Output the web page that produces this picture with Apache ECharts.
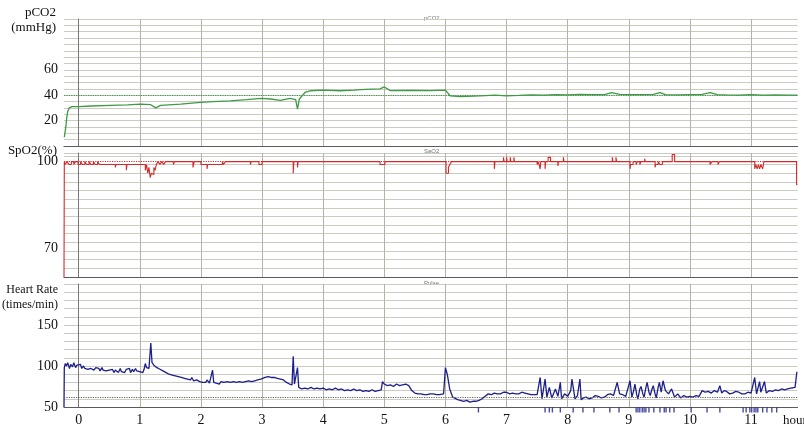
<!DOCTYPE html>
<html>
<head>
<meta charset="utf-8">
<script src="https://cdn.jsdelivr.net/npm/echarts@6/dist/echarts.min.js"></script>
<style>
  html, body { margin: 0; padding: 0; background: #fff; }
  #chart { width: 804px; height: 427px; }
</style>
</head>
<body>
<div id="chart"></div>
<script>
// Time axis (hours) and labelled ticks
const hourTicks = [0, 1, 2, 3, 4, 5, 6, 7, 8, 9, 10, 11];
const pco2Labels = [20, 40, 60];
const spo2Labels = [70, 100];
const hrLabels = [50, 100, 150];

// Reference levels drawn as dotted lines
const pco2Ref = 40;
const spo2Ref = 100;
const hrRef = 62;

// pCO2 (mmHg): [hour, value]
const pco2 = [
  [-0.235, 7], [-0.21, 15], [-0.196, 22], [-0.18, 27], [-0.155, 30], [-0.11, 31],
  [0, 31], [0.2, 31.5], [0.52, 32], [0.8, 32.4], [1.01, 33], [1.18, 32.5], [1.26, 30],
  [1.34, 32], [1.67, 33], [1.99, 34.4], [2.2, 35], [2.48, 35.5], [2.75, 36.5], [2.99, 37.5],
  [3.14, 37], [3.3, 36], [3.46, 37.5], [3.55, 36.5], [3.58, 29], [3.61, 37], [3.71, 42.5],
  [3.79, 43.5], [3.99, 44], [4.28, 43.5], [4.5, 44], [4.69, 44.6], [4.93, 45], [5.0, 46.5],
  [5.1, 43.6], [5.42, 43.8], [5.75, 43.6], [6.0, 44], [6.08, 39.4], [6.24, 38.8],
  [6.57, 39.4], [6.81, 40], [7.0, 39.5], [7.2, 39.8], [7.4, 40.3], [7.6, 40], [7.8, 40.5],
  [8.0, 40.3], [8.2, 40.6], [8.4, 40.4], [8.6, 40.5], [8.72, 42], [8.85, 40.6], [9.0, 40.4],
  [9.2, 40.5], [9.4, 40.6], [9.51, 42], [9.6, 40.5], [9.8, 40.3], [10.0, 40.5], [10.2, 40.6],
  [10.33, 42], [10.45, 40.5], [10.6, 40.2], [10.8, 40], [11.0, 40.4], [11.2, 40],
  [11.4, 40.2], [11.6, 40], [11.76, 40]
];

// SpO2 (%): [hour, value], each value held until the next point
const spo2 = [
  [-0.24, 60], [-0.235, 100], [-0.22, 99], [-0.19, 100], [-0.16, 99], [-0.12, 100],
  [-0.08, 99], [-0.05, 100], [-0.01, 99], [0.03, 100], [0.06, 99], [0.1, 100], [0.13, 99],
  [0.17, 100], [0.2, 99], [0.24, 100], [0.27, 99], [0.31, 100], [0.34, 99],
  [0.6, 98], [0.61, 99], [0.78, 97], [0.79, 99],
  [1.09, 97], [1.11, 99], [1.13, 96], [1.15, 98], [1.17, 94.5], [1.19, 96], [1.21, 95.5],
  [1.23, 98], [1.25, 97], [1.27, 99], [1.3, 100], [1.33, 99], [1.36, 100], [1.39, 99],
  [1.42, 100], [1.55, 99], [1.57, 100], [1.87, 98], [1.89, 100],
  [2.0, 99], [2.1, 97.5], [2.11, 99], [2.35, 100], [2.37, 99], [2.4, 100],
  [2.81, 99], [2.82, 100], [2.95, 99], [3.0, 100], [3.51, 96], [3.52, 100], [3.58, 98],
  [3.59, 100], [4.93, 99], [5.01, 100], [6.01, 96], [6.05, 98], [6.07, 99], [6.1, 100],
  [6.8, 97.5], [6.81, 100], [6.95, 101.5], [6.96, 100], [7.0, 101.5], [7.01, 100],
  [7.06, 101.5], [7.07, 100], [7.12, 101.5], [7.13, 100], [7.5, 99], [7.52, 100],
  [7.55, 97.5], [7.56, 100], [7.63, 97.5], [7.64, 100], [7.68, 101.5], [7.72, 100],
  [7.84, 98.5], [7.85, 100], [7.93, 101.5], [7.94, 100], [8.73, 101.5], [8.74, 100],
  [8.79, 101.5], [8.8, 100], [9.02, 97.5], [9.03, 99], [9.07, 100], [9.12, 99], [9.14, 100],
  [9.18, 99], [9.2, 100], [9.26, 101], [9.27, 100], [9.43, 98], [9.44, 99], [9.48, 100],
  [9.51, 99], [9.55, 100], [9.71, 102.5], [9.75, 100], [10.33, 99], [10.36, 100],
  [10.46, 99], [10.48, 100], [10.52, 99.5], [10.53, 100], [11.06, 97.5], [11.08, 99],
  [11.1, 97.5], [11.12, 99], [11.14, 97.5], [11.16, 99], [11.19, 97.5], [11.21, 100],
  [11.745, 92], [11.76, 92]
];

// Heart rate (times/min): [hour, value]
const heartRate = [
  [-0.24, 50], [-0.235, 98], [-0.22, 103], [-0.2, 100], [-0.18, 104], [-0.15, 97],
  [-0.13, 102], [-0.1, 99], [-0.08, 104], [-0.05, 98], [-0.03, 101], [0, 99], [0.03, 102],
  [0.05, 97], [0.08, 100], [0.1, 97], [0.13, 99], [0.15, 96], [0.18, 98], [0.2, 97],
  [0.23, 99], [0.25, 95], [0.28, 98], [0.3, 96], [0.33, 97], [0.35, 94], [0.38, 98],
  [0.4, 95], [0.43, 97], [0.45, 94], [0.48, 96], [0.5, 95], [0.53, 93], [0.55, 96],
  [0.58, 92], [0.6, 95], [0.63, 93], [0.65, 92], [0.68, 97], [0.7, 93], [0.73, 95],
  [0.75, 92], [0.78, 96], [0.8, 94], [0.83, 97], [0.85, 92], [0.88, 96], [0.9, 93],
  [0.93, 97], [0.95, 94], [0.98, 96], [1.0, 93], [1.03, 95], [1.05, 92], [1.07, 96],
  [1.09, 103], [1.11, 98], [1.13, 100], [1.15, 97], [1.18, 128], [1.2, 104], [1.23, 101],
  [1.25, 100], [1.28, 98], [1.3, 99], [1.33, 96], [1.35, 97], [1.38, 94], [1.4, 95],
  [1.43, 92], [1.45, 93], [1.48, 90], [1.5, 92], [1.53, 89], [1.55, 91], [1.58, 88],
  [1.6, 89], [1.63, 87], [1.65, 89], [1.68, 86], [1.7, 87], [1.73, 85], [1.75, 87],
  [1.78, 84], [1.8, 85], [1.83, 83], [1.85, 86], [1.88, 82], [1.9, 84], [1.93, 83],
  [1.95, 84], [1.98, 81], [2.0, 83], [2.03, 80], [2.05, 82], [2.08, 80], [2.1, 83],
  [2.14, 79], [2.17, 81], [2.19, 95], [2.21, 80], [2.23, 82], [2.25, 79], [2.28, 81],
  [2.3, 78], [2.33, 81], [2.35, 79], [2.38, 80], [2.4, 78], [2.43, 81], [2.45, 79],
  [2.48, 80], [2.5, 78], [2.53, 81], [2.55, 79], [2.58, 80], [2.6, 78], [2.63, 81],
  [2.65, 79], [2.68, 80], [2.7, 78], [2.73, 81], [2.75, 79], [2.78, 82], [2.8, 80],
  [2.83, 81], [2.85, 79], [2.88, 82], [2.9, 81], [2.93, 83], [2.95, 82], [2.98, 84],
  [3.0, 85], [3.05, 86], [3.1, 87], [3.15, 86], [3.2, 86], [3.25, 85], [3.3, 84], [3.35, 83],
  [3.4, 80], [3.45, 78], [3.49, 77], [3.51, 112], [3.53, 78], [3.56, 80], [3.58, 98],
  [3.6, 74], [3.65, 72], [3.7, 73], [3.75, 72], [3.8, 74], [3.85, 72], [3.9, 73], [3.95, 72],
  [4.0, 73], [4.05, 71], [4.1, 72], [4.15, 71], [4.2, 73], [4.25, 71], [4.3, 72], [4.35, 70],
  [4.4, 71], [4.45, 70], [4.5, 72], [4.55, 70], [4.6, 71], [4.65, 69], [4.7, 70], [4.75, 69],
  [4.8, 71], [4.85, 69], [4.9, 70], [4.95, 71], [4.97, 81], [5.0, 78], [5.05, 76],
  [5.1, 77], [5.15, 75], [5.2, 78], [5.25, 76], [5.3, 77], [5.35, 78], [5.4, 76],
  [5.45, 70], [5.5, 67], [5.55, 66], [5.6, 66], [5.65, 65], [5.7, 65], [5.75, 66],
  [5.8, 66], [5.85, 65], [5.9, 65], [5.97, 66], [6.0, 98], [6.03, 90], [6.07, 72],
  [6.12, 62], [6.2, 59], [6.3, 57], [6.35, 58], [6.4, 56], [6.45, 57], [6.5, 57], [6.55, 58],
  [6.6, 60], [6.65, 63], [6.7, 66], [6.75, 65], [6.8, 67], [6.85, 66], [6.9, 66],
  [6.95, 68], [7.0, 68], [7.05, 66], [7.1, 67], [7.15, 66], [7.2, 66], [7.25, 68],
  [7.3, 67], [7.35, 66], [7.4, 65], [7.5, 65], [7.55, 86], [7.58, 60], [7.63, 84],
  [7.66, 62], [7.7, 74], [7.74, 61], [7.8, 72], [7.84, 63], [7.88, 80], [7.9, 60],
  [7.95, 66], [8.0, 63], [8.05, 70], [8.07, 84], [8.12, 60], [8.16, 64], [8.2, 84],
  [8.22, 59], [8.26, 61], [8.3, 62], [8.35, 60], [8.4, 61], [8.45, 64], [8.5, 63],
  [8.55, 61], [8.6, 62], [8.65, 65], [8.7, 66], [8.75, 64], [8.81, 80], [8.85, 66],
  [8.9, 65], [8.95, 63], [9.02, 82], [9.05, 62], [9.08, 70], [9.1, 78], [9.13, 65],
  [9.15, 60], [9.18, 72], [9.2, 75], [9.23, 66], [9.25, 62], [9.28, 74], [9.3, 80],
  [9.33, 68], [9.35, 64], [9.38, 72], [9.4, 76], [9.43, 66], [9.45, 61], [9.48, 74],
  [9.5, 80], [9.53, 68], [9.56, 82], [9.6, 70], [9.65, 66], [9.7, 72], [9.75, 62], [9.8, 66],
  [9.85, 61], [9.9, 64], [9.95, 62], [10.0, 63], [10.05, 62], [10.1, 64], [10.15, 63],
  [10.2, 70], [10.25, 68], [10.3, 69], [10.35, 67], [10.4, 70], [10.45, 68], [10.49, 76],
  [10.52, 67], [10.56, 70], [10.6, 69], [10.65, 66], [10.7, 67], [10.75, 69], [10.8, 68],
  [10.85, 66], [10.9, 66], [10.95, 68], [11.0, 67], [11.02, 65], [11.06, 86], [11.09, 66],
  [11.14, 81], [11.16, 68], [11.22, 81], [11.25, 67], [11.3, 70], [11.35, 69], [11.4, 71],
  [11.45, 70], [11.5, 72], [11.55, 71], [11.6, 72], [11.65, 73], [11.72, 74], [11.75, 93]
];

// Event markers along the heart-rate baseline (hours)
const hrEvents = [
  6.54, 7.63, 7.70, 7.75, 7.88, 8.09, 8.25, 8.43, 8.69, 8.84, 9.12, 9.15, 9.18, 9.22, 9.25,
  9.28, 9.33, 9.41, 9.51, 9.58, 9.61, 9.67, 9.74, 10.02, 10.28, 10.49, 10.87, 10.92, 10.98,
  11.01, 11.05, 11.08, 11.11, 11.19, 11.26, 11.34, 11.42
];

const SERIF = '"Liberation Serif", "Times New Roman", serif';
const hGrid = '#cbcbc1';
const vGrid = '#b4b4a6';
const axisDark = '#5a5a5a';

const grids = [
  { left: 64, right: 6.5, top: 19, height: 127 },
  { left: 64, right: 6.5, top: 153, height: 124 },
  { left: 64, right: 6.5, top: 284, height: 128 }
];

function xAxisFor(i) {
  return {
    type: 'value', gridIndex: i, min: -0.24, max: 11.76,
    axisLine: { show: true, lineStyle: { color: axisDark, width: 1.2 } },
    axisTick: { show: false, customValues: hourTicks },
    axisLabel: {
      show: i === 2, customValues: hourTicks, margin: 6,
      fontFamily: SERIF, fontSize: 14, color: '#111'
    },
    splitLine: { show: true, lineStyle: { color: vGrid, width: 1 } }
  };
}

function labelFormatter(list) {
  return v => (list.indexOf(v) >= 0 ? String(v) : '');
}

const yLabelStyle = { fontFamily: SERIF, fontSize: 14, color: '#111', margin: 6 };

const chart = echarts.init(document.getElementById('chart'), null, { renderer: 'canvas' });

chart.setOption({
  animation: false,
  backgroundColor: '#fff',
  grid: grids,
  xAxis: [xAxisFor(0), xAxisFor(1), xAxisFor(2)],
  yAxis: [
    {
      type: 'value', gridIndex: 0, min: 0, max: 100, interval: 5,
      axisLine: { show: true, lineStyle: { color: '#777' } }, axisTick: { show: false },
      axisLabel: Object.assign({ formatter: labelFormatter(pco2Labels) }, yLabelStyle),
      splitLine: { lineStyle: { color: hGrid } }
    },
    {
      type: 'value', gridIndex: 1, min: 60, max: 103, interval: 3,
      axisLine: { show: true, lineStyle: { color: '#777' } }, axisTick: { show: false },
      axisLabel: { show: false },
      splitLine: { lineStyle: { color: hGrid } }
    },
    {
      type: 'value', gridIndex: 1, min: 60, max: 103, interval: 10, position: 'left',
      axisLine: { show: false }, axisTick: { show: false },
      axisLabel: Object.assign({ formatter: labelFormatter(spo2Labels) }, yLabelStyle),
      splitLine: { show: false }
    },
    {
      type: 'value', gridIndex: 2, min: 50, max: 200, interval: 10,
      axisLine: { show: true, lineStyle: { color: '#777' } }, axisTick: { show: false },
      axisLabel: Object.assign({ formatter: labelFormatter(hrLabels) }, yLabelStyle),
      splitLine: { lineStyle: { color: hGrid } }
    }
  ],
  series: [
    {
      name: 'pCO2', type: 'line', xAxisIndex: 0, yAxisIndex: 0, data: pco2,
      showSymbol: false, lineStyle: { color: '#3f9a45', width: 1.3 },
      markLine: {
        silent: true, symbol: 'none', label: { show: false },
        lineStyle: { color: '#3f9a45', type: 'dotted', width: 1.2 },
        data: [{ yAxis: pco2Ref }]
      }
    },
    {
      name: 'SpO2', type: 'line', xAxisIndex: 1, yAxisIndex: 2, data: spo2, step: 'end',
      showSymbol: false, lineStyle: { color: '#d42a2a', width: 1.1 },
      markLine: {
        silent: true, symbol: 'none', label: { show: false },
        lineStyle: { color: '#d42a2a', type: 'dotted', width: 1.2 },
        data: [{ yAxis: spo2Ref }]
      }
    },
    {
      name: 'Heart Rate', type: 'line', xAxisIndex: 2, yAxisIndex: 3, data: heartRate,
      showSymbol: false, lineStyle: { color: '#1c1f8a', width: 1.3 },
      markLine: {
        silent: true, symbol: 'none', label: { show: false },
        lineStyle: { color: '#666', type: 'dotted', width: 1.2 },
        data: [{ yAxis: hrRef }]
      }
    },
    {
      name: 'Events', type: 'scatter', xAxisIndex: 2, yAxisIndex: 3, clip: false,
      data: hrEvents.map(h => [h, 50]),
      symbol: 'rect', symbolSize: [1.4, 5], symbolOffset: [0, 3],
      itemStyle: { color: '#1c1f8a' }, silent: true
    }
  ],
  graphic: [
    { type: 'text', right: 748, top: 6, style: { text: 'pCO2', font: '13px ' + SERIF, fill: '#111', textAlign: 'right' } },
    { type: 'text', right: 748, top: 21, style: { text: '(mmHg)', font: '13px ' + SERIF, fill: '#111', textAlign: 'right' } },
    { type: 'text', right: 747, top: 144, style: { text: 'SpO2(%)', font: '13px ' + SERIF, fill: '#111', textAlign: 'right' } },
    { type: 'text', right: 746, top: 284, style: { text: 'Heart Rate', font: '12px ' + SERIF, fill: '#111', textAlign: 'right' } },
    { type: 'text', right: 746, top: 299, style: { text: '(times/min)', font: '12px ' + SERIF, fill: '#111', textAlign: 'right' } },
    { type: 'text', left: 783, top: 414, style: { text: 'hour', font: '13px ' + SERIF, fill: '#111' } },
    { type: 'text', left: 424, top: 15, style: { text: 'pCO2', font: '6px sans-serif', fill: '#777' } },
    { type: 'text', left: 424, top: 148, style: { text: 'SaO2', font: '6px sans-serif', fill: '#777' } },
    { type: 'text', left: 424, top: 280, style: { text: 'Pulse', font: '6px sans-serif', fill: '#777' } }
  ]
});
</script>
</body>
</html>
